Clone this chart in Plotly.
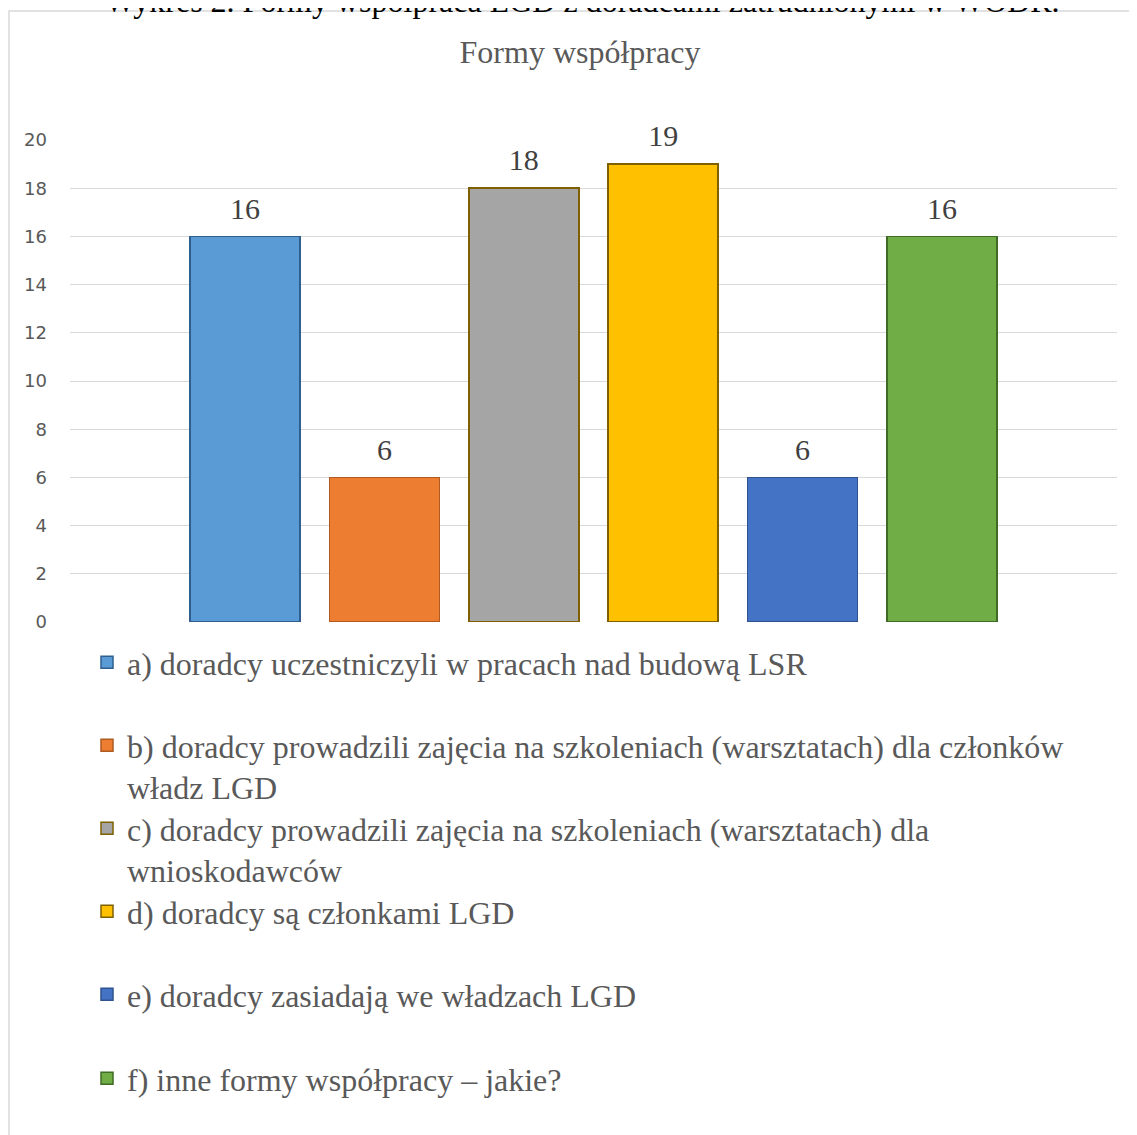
import plotly.graph_objects as go

# ---- data ----
categories = ["a", "b", "c", "d", "e", "f"]
series_names = [
    "a) doradcy uczestniczyli w pracach nad budową LSR",
    "b) doradcy prowadzili zajęcia na szkoleniach (warsztatach) dla członków<br>władz LGD",
    "c) doradcy prowadzili zajęcia na szkoleniach (warsztatach) dla<br>wnioskodawców",
    "d) doradcy są członkami LGD",
    "e) doradcy zasiadają we władzach LGD",
    "f) inne formy współpracy – jakie?",
]
series_values = [16, 6, 18, 19, 6, 16]
y_ticks = [0, 2, 4, 6, 8, 10, 12, 14, 16, 18, 20]

# ---- styles ----
fill_colors = ["#5B9BD5", "#ED7D31", "#A5A5A5", "#FFC000", "#4472C4", "#70AD47"]
line_colors = ["#2E5F8E", "#AE5A21", "#7F6000", "#7F6000", "#2F528F", "#3F6B24"]

# page body has an 8px margin in the browser; lay out in figure coordinates
OFF = 8
W, H = 1137 - OFF, 1135 - OFF
ML, MR, MT, MB = 70 - OFF, 20, 140 - OFF, 1135 - 622
PW, PH = W - ML - MR, H - MT - MB

def py2paper(py_screen):
    return (H - MB - (py_screen - OFF)) / PH

def px2paper(px_screen):
    return ((px_screen - OFF) - ML) / PW

serif = "Liberation Serif, Times New Roman, serif"

fig = go.Figure()
legend_first_line_y = [665, 748, 831, 914, 997, 1081]
legend_keys = ["legend", "legend2", "legend3", "legend4", "legend5", "legend6"]
for i, (cat, name, val) in enumerate(zip(categories, series_names, series_values)):
    fig.add_trace(go.Bar(
        x=[cat], y=[val], name=name,
        marker=dict(color=fill_colors[i], line=dict(color=line_colors[i], width=1.5)),
        legend=legend_keys[i], hoverinfo="y",
    ))

# value labels
fig.add_trace(go.Scatter(
    x=categories, y=series_values, text=[str(v) for v in series_values],
    mode="markers+text", textposition="top center",
    marker=dict(size=15, color="rgba(0,0,0,0)", line=dict(width=0)),
    textfont=dict(family=serif, size=30, color="#404040"),
    showlegend=False, cliponaxis=False, hoverinfo="skip",
))

layout_legends = {}
for i, key in enumerate(legend_keys):
    layout_legends[key] = dict(
        x=px2paper(87), xanchor="left",
        y=py2paper(legend_first_line_y[i] - 30), yanchor="top",
        font=dict(family=serif, size=32, color="#595959"),
        bgcolor="rgba(0,0,0,0)", valign="top",
        borderwidth=0,
    )

fig.update_layout(
    width=W, height=H,
    margin=dict(l=ML, r=MR, t=MT, b=MB),
    paper_bgcolor="white", plot_bgcolor="white",
    barmode="stack", bargap=0.211,
    showlegend=True,
    title=dict(text="Formy współpracy", x=(580 - OFF) / W, xref="container", xanchor="center",
               y=1 - (52 - OFF) / H, yref="container", yanchor="middle",
               font=dict(family=serif, size=32, color="#595959")),
    xaxis=dict(type="category", categoryorder="array", categoryarray=categories,
               range=[-1.255, 6.255],
               showticklabels=False, showgrid=False, zeroline=False, showline=False),
    yaxis=dict(range=[0, 20], tickvals=y_ticks, showgrid=True, gridcolor="#D9D9D9", gridwidth=1,
               zeroline=False, showline=False, ticklabelstandoff=22,
               tickfont=dict(family="DejaVu Sans, Liberation Sans, sans-serif", size=18, color="#595959")),
    **layout_legends,
)

# outer chart frame (light grey)
fig.add_shape(type="rect", xref="paper", yref="paper",
              x0=px2paper(9), x1=px2paper(1150), y0=py2paper(1150), y1=py2paper(11),
              line=dict(color="#D9D9D9", width=1.5), fillcolor="rgba(0,0,0,0)", layer="below")

# document caption above the chart (cut off by the page edge, as on the page)
fig.add_annotation(text="Wykres 2. Formy współpraca LGD z doradcami zatrudnionymi w WODR.",
                   xref="paper", yref="paper", x=px2paper(582), y=py2paper(1),
                   xanchor="center", yanchor="middle", showarrow=False,
                   font=dict(family=serif, size=32, color="#000000"))

fig.write_html("out.html")
